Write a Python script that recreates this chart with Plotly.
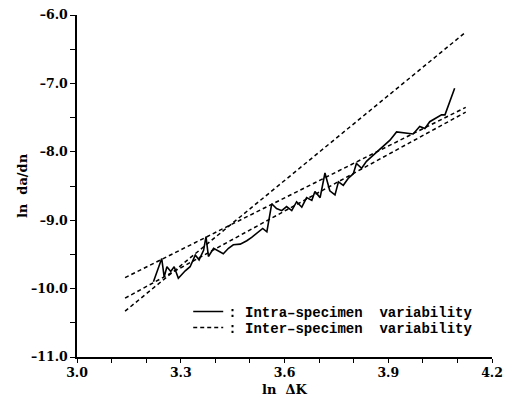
import plotly.graph_objects as go

# Intra-specimen variability (solid jagged curve)
intra_x = [3.221, 3.245, 3.252, 3.260, 3.271, 3.281, 3.293, 3.313, 3.327, 3.342,
           3.353, 3.366, 3.373, 3.380, 3.395, 3.409, 3.423, 3.438, 3.452, 3.472,
           3.491, 3.505, 3.520, 3.537, 3.549, 3.563, 3.577, 3.592, 3.606, 3.621,
           3.635, 3.650, 3.664, 3.679, 3.688, 3.703, 3.717, 3.731, 3.746, 3.756,
           3.770, 3.784, 3.799, 3.808, 3.823, 3.837, 3.852, 3.866, 3.885, 3.905,
           3.924, 3.943, 3.972, 3.991, 4.006, 4.020, 4.035, 4.054, 4.064, 4.092]
intra_y = [-9.90, -9.56, -9.83, -9.68, -9.75, -9.68, -9.85, -9.74, -9.68, -9.51,
           -9.58, -9.44, -9.24, -9.53, -9.41, -9.45, -9.49, -9.41, -9.36, -9.35,
           -9.30, -9.25, -9.19, -9.12, -9.17, -8.76, -8.83, -8.86, -8.80, -8.86,
           -8.73, -8.81, -8.67, -8.71, -8.58, -8.67, -8.31, -8.57, -8.63, -8.44,
           -8.49, -8.39, -8.32, -8.17, -8.24, -8.14, -8.07, -8.01, -7.93, -7.83,
           -7.71, -7.72, -7.74, -7.63, -7.66, -7.56, -7.52, -7.46, -7.46, -7.07]

# Inter-specimen variability (three dashed straight lines)
inter_x = [3.139, 4.124]
inter_steep_y = [-10.33, -6.25]
inter_upper_y = [-9.84, -7.35]
inter_lower_y = [-10.14, -7.42]

x_ticks = [3.0, 3.1, 3.2, 3.3, 3.4, 3.5, 3.6, 3.7, 3.8, 3.9, 4.0, 4.1, 4.2]
x_labels = ["3.0", "", "", "3.3", "", "", "3.6", "", "", "3.9", "", "", "4.2"]
y_ticks = [-11.0, -10.5, -10.0, -9.5, -9.0, -8.5, -8.0, -7.5, -7.0, -6.5, -6.0]
y_labels = ["\u201311.0", "", "\u201310.0", "", "\u20139.0", "", "\u20138.0", "", "\u20137.0", "", "\u20136.0"]

FONT = "DejaVu Serif"
LEGFONT = "Liberation Mono"

fig = go.Figure()
fig.add_trace(go.Scatter(x=intra_x, y=intra_y, mode="lines",
                         line=dict(color="black", width=1.6),
                         name=":\u00a0Intra\u2013specimen\u00a0\u00a0variability",
                         legend="legend"))
fig.add_trace(go.Scatter(x=inter_x, y=inter_steep_y, mode="lines",
                         line=dict(color="black", width=1.5, dash="4px,3px"),
                         name=":\u00a0Inter\u2013specimen\u00a0\u00a0variability",
                         legend="legend2"))
fig.add_trace(go.Scatter(x=inter_x, y=inter_upper_y, mode="lines",
                         line=dict(color="black", width=1.5, dash="4px,3px"),
                         showlegend=False))
fig.add_trace(go.Scatter(x=inter_x, y=inter_lower_y, mode="lines",
                         line=dict(color="black", width=1.5, dash="4px,3px"),
                         showlegend=False))

legfont = dict(family=LEGFONT, size=14, weight="bold", color="black")
fig.update_layout(
    width=506, height=408,
    margin=dict(l=77, r=14, t=15, b=51),
    paper_bgcolor="white", plot_bgcolor="white",
    font=dict(family=FONT, size=12, color="black"),
    legend=dict(x=0.268, y=0.132, xanchor="left", yanchor="middle",
                bgcolor="rgba(0,0,0,0)", font=legfont, borderwidth=0,
                itemwidth=30),
    legend2=dict(x=0.268, y=0.085, xanchor="left", yanchor="middle",
                 bgcolor="rgba(0,0,0,0)", font=legfont, borderwidth=0,
                 itemwidth=30),
    xaxis=dict(range=[3.0, 4.2], tickvals=x_ticks, ticktext=x_labels,
               automargin=False,
               showgrid=False, zeroline=False, showline=True, linecolor="black",
               linewidth=1.5, ticks="outside", ticklen=4, tickwidth=1.2,
               tickcolor="black", ticklabelstandoff=-1,
               tickfont=dict(family=FONT, size=12.5, weight="bold"),
               title=dict(text="ln \u00a0\u0394K", standoff=6,
                          font=dict(family=FONT, size=13, weight="bold"))),
    yaxis=dict(range=[-11.0, -6.0], tickvals=y_ticks, ticktext=y_labels,
               automargin=False,
               showgrid=False, zeroline=False, showline=True, linecolor="black",
               linewidth=1.5, ticks="outside", ticklen=5, tickwidth=1.2,
               tickcolor="black", tickfont=dict(family=FONT, size=12.5, weight="bold"),
               title=dict(text="ln \u00a0da/dn", standoff=0,
                          font=dict(family=FONT, size=13, weight="bold"))),
)

fig.write_html("out.html", config={"displayModeBar": False},
               post_script="document.body.style.margin='0px';")
